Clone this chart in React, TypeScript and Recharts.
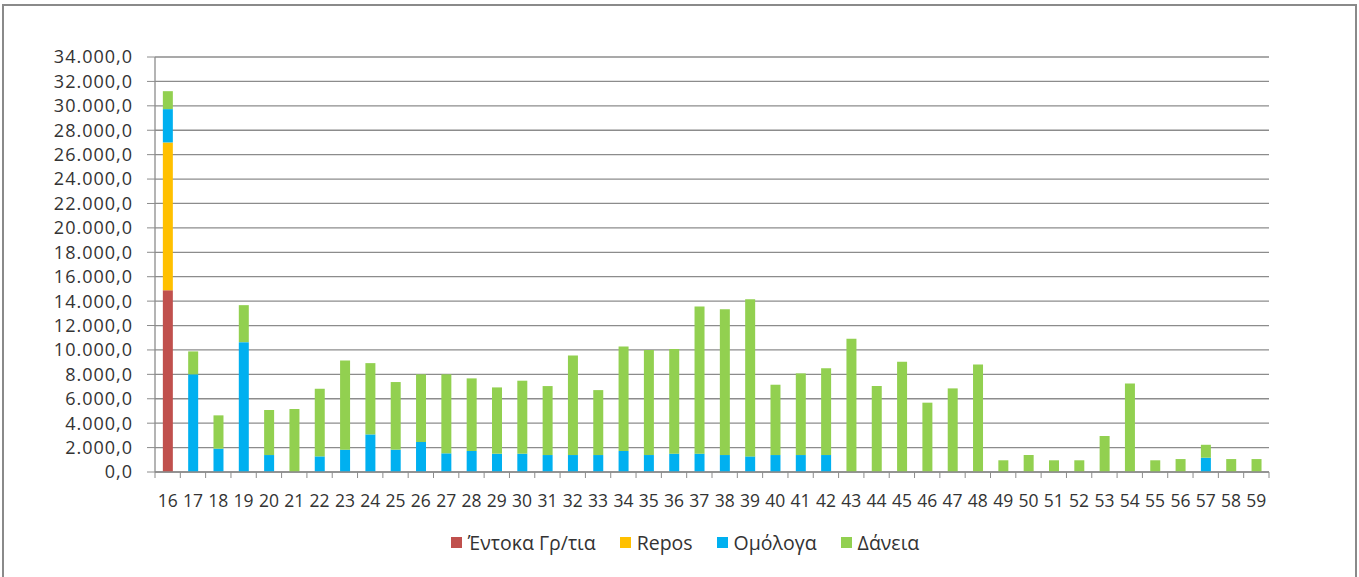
import { BarChart, Bar, XAxis, YAxis, CartesianGrid, Legend } from "recharts";

const categories = [
  "16", "17", "18", "19", "20", "21", "22", "23", "24", "25", "26",
  "27", "28", "29", "30", "31", "32", "33", "34", "35", "36", "37",
  "38", "39", "40", "41", "42", "43", "44", "45", "46", "47", "48",
  "49", "50", "51", "52", "53", "54", "55", "56", "57", "58", "59",
];

// Έντοκα Γρ/τια
const entoka = [14900];
// Repos
const repos = [12100];
// Ομόλογα
const omologa = [
  2730, 8000, 1910, 10640, 1390, 0, 1280, 1830, 3080, 1830, 2460,
  1530, 1720, 1500, 1500, 1390, 1390, 1390, 1720, 1390, 1500, 1500,
  1390, 1280, 1390, 1390, 1390, 0, 0, 0, 0, 0, 0,
  0, 0, 0, 0, 0, 0, 0, 0, 1170, 0, 0,
];
// Δάνεια
const daneia = [
  1470, 1880, 2730, 3030, 3690, 5160, 5540, 7310, 5840, 5540, 5540,
  6470, 5950, 5430, 5980, 5650, 8160, 5320, 8570, 8600, 8570, 12060,
  11950, 12880, 5760, 6690, 7120, 10910, 7040, 9030, 5680, 6850, 8810,
  960, 1390, 960, 960, 2950, 7260, 960, 1060, 1060, 1060, 1060,
];

const yTicks = [
  0, 2000, 4000, 6000, 8000, 10000, 12000, 14000, 16000, 18000, 20000,
  22000, 24000, 26000, 28000, 30000, 32000, 34000,
];

const series = [
  { key: "entoka", name: "Έντοκα Γρ/τια", color: "#C0504D" },
  { key: "repos", name: "Repos", color: "#FFC000" },
  { key: "omologa", name: "Ομόλογα", color: "#00B0F0" },
  { key: "daneia", name: "Δάνεια", color: "#92D050" },
];

const data = categories.map((c, i) => ({
  cat: c,
  entoka: entoka[i] ?? 0,
  repos: repos[i] ?? 0,
  omologa: omologa[i] ?? 0,
  daneia: daneia[i] ?? 0,
}));

const WIDTH = 1359;
const HEIGHT = 577;
const MARGIN = { top: 57, right: 90, bottom: 20, left: 0 };
const Y_WIDTH = 155;
const BAND = (WIDTH - MARGIN.right - Y_WIDTH) / categories.length;
const FONT = "'Open Sans', 'Liberation Sans', Arial, sans-serif";
const AXIS = "#8c8c8c";

function fmt(v: number) {
  const s = String(Math.round(v)).replace(/\B(?=(\d{3})+(?!\d))/g, ".");
  return s + ",0";
}

function XTick(props: any) {
  const { x, y, payload, index } = props;
  const top = y - 8;
  const last = index === categories.length - 1;
  return (
    <g>
      <line x1={x - BAND / 2} x2={x - BAND / 2} y1={top} y2={top + 6} stroke={AXIS} />
      {last && <line x1={x + BAND / 2} x2={x + BAND / 2} y1={top} y2={top + 6} stroke={AXIS} />}
      <text
        x={x}
        y={y + 27}
        textAnchor="middle"
        fill="#333"
        style={{ fontFamily: FONT, fontSize: 17.5 }}
      >
        {payload.value}
      </text>
    </g>
  );
}

function LegendContent() {
  return (
    <div
      style={{
        display: "flex",
        justifyContent: "center",
        alignItems: "center",
        height: 30,
        fontFamily: FONT,
        fontSize: 19.5,
        color: "#333",
        paddingLeft: 125,
      }}
    >
      {series.map((s) => (
        <div key={s.key} style={{ display: "flex", alignItems: "center", marginRight: 24 }}>
          <span style={{ width: 11, height: 11, background: s.color, marginRight: 6, display: "inline-block" }} />
          <span>{s.name}</span>
        </div>
      ))}
    </div>
  );
}

export default function App() {
  return (
    <div style={{ position: "absolute", left: 0, top: 0, width: WIDTH, height: HEIGHT, overflow: "hidden", background: "#fff" }}>
      <div
        style={{
          position: "absolute",
          left: 2,
          top: 4,
          width: WIDTH - 8,
          height: HEIGHT + 20,
          border: "2px solid #8a8a8a",
        }}
      />
      <BarChart width={WIDTH} height={HEIGHT} data={data} margin={MARGIN} barCategoryGap="31%">
        <CartesianGrid vertical={false} stroke={AXIS} strokeWidth={1.3} />
        <XAxis
          dataKey="cat"
          interval={0}
          height={55}
          tickLine={false}
          tickSize={6}
          tickMargin={2}
          axisLine={{ stroke: AXIS, strokeWidth: 1.3 }}
          tick={<XTick />}
        />
        <YAxis
          width={Y_WIDTH}
          domain={[0, 34000]}
          ticks={yTicks}
          interval={0}
          tickFormatter={fmt}
          tickSize={8}
          tickMargin={14}
          tickLine={{ stroke: AXIS }}
          axisLine={{ stroke: AXIS, strokeWidth: 1.3 }}
          tick={{ fill: "#333", fontSize: 18, fontFamily: FONT, letterSpacing: 1 }}
        />
        <Legend
          verticalAlign="bottom"
          wrapperStyle={{ height: 30 }}
          content={<LegendContent />}
        />
        {series.map((s) => (
          <Bar key={s.key} dataKey={s.key} name={s.name} stackId="a" fill={s.color} isAnimationActive={false} />
        ))}
      </BarChart>
    </div>
  );
}
